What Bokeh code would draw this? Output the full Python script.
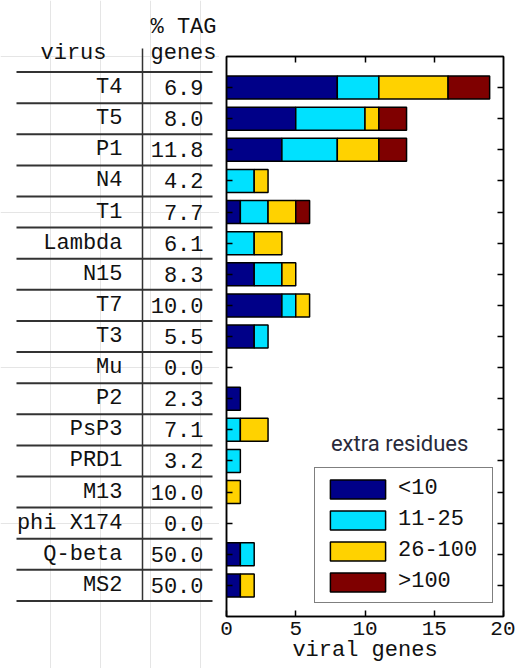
from bokeh.plotting import figure
from bokeh.models import (Range1d, LinearAxis, FixedTicker, Legend, LegendItem,
                          ColumnDataSource, Label)
from bokeh.layouts import row
from bokeh.core.properties import value
from bokeh.embed import file_html
from bokeh.resources import INLINE
import numpy as np

# ---- data -------------------------------------------------------------
viruses = ["T4", "T5", "P1", "N4", "T1", "Lambda", "N15", "T7", "T3", "Mu",
           "P2", "PsP3", "PRD1", "M13", "phi X174", "Q-beta", "MS2"]
tag_pct = [6.9, 8.0, 11.8, 4.2, 7.7, 6.1, 8.3, 10.0, 5.5, 0.0,
           2.3, 7.1, 3.2, 10.0, 0.0, 50.0, 50.0]

series_labels = ["<10", "11-25", "26-100", ">100"]
under_10 = [8, 5, 4, 0, 1, 0, 2, 4, 2, 0, 1, 0, 0, 0, 0, 1, 1]
from_11_to_25 = [3, 5, 4, 2, 2, 2, 2, 1, 1, 0, 0, 1, 1, 0, 0, 1, 0]
from_26_to_100 = [5, 1, 3, 1, 2, 2, 1, 1, 0, 0, 0, 2, 0, 1, 0, 0, 1]
over_100 = [3, 2, 2, 0, 1, 0, 0, 0, 0, 0, 0, 0, 0, 0, 0, 0, 0]

x_ticks = [0, 5, 10, 15, 20]

# ---- styling ----------------------------------------------------------
colors = ["#000088", "#00E1FF", "#FFD200", "#7F0000"]
MONO = "Liberation Mono"
INK = "#111111"

W, H = 515, 668
TABLE_W = 219
TOP, BOTTOM = 56, 52
n = len(viruses)
rows = np.arange(1, n + 1)
row_px = (H - TOP - BOTTOM) / (n + 1)

# ---- bar chart --------------------------------------------------------
p = figure(width=W - TABLE_W, height=H,
           x_range=Range1d(0, 20), y_range=Range1d(n + 1, 0),
           output_backend="svg", toolbar_location=None,
           x_axis_location=None, y_axis_location=None,
           min_border_left=7, min_border_right=12,
           min_border_top=TOP, min_border_bottom=BOTTOM)
p.frame_align = False
p.outline_line_color = "black"
p.outline_line_width = 1.5
p.xgrid.visible = False
p.ygrid.visible = False

left = np.zeros(n)
renderers = []
for vals, color in zip([under_10, from_11_to_25, from_26_to_100, over_100], colors):
    vals = np.asarray(vals, dtype=float)
    right = left + vals
    keep = vals > 0
    src = ColumnDataSource(dict(y=rows[keep], left=left[keep], right=right[keep]))
    r = p.hbar(y="y", left="left", right="right", height=0.74, source=src,
               fill_color=color, line_color="black", line_width=1.5)
    renderers.append(r)
    left = right


def tick_only_axis(ticks):
    return LinearAxis(ticker=FixedTicker(ticks=ticks),
                      major_label_overrides={t: "" for t in ticks},
                      major_label_text_font_size="1px", major_label_standoff=0,
                      axis_label_standoff=0,
                      major_tick_in=6, major_tick_out=0,
                      minor_tick_in=0, minor_tick_out=0,
                      axis_line_width=1.5, major_tick_line_width=1.5)


p.add_layout(tick_only_axis(list(rows)), "left")
p.add_layout(tick_only_axis(list(rows)), "right")
p.add_layout(tick_only_axis([5, 10, 15]), "above")

xaxis = LinearAxis(ticker=FixedTicker(ticks=x_ticks),
                   major_tick_in=6, major_tick_out=0,
                   minor_tick_in=0, minor_tick_out=0,
                   axis_line_width=1.5, major_tick_line_width=1.5,
                   major_label_standoff=5,
                   major_label_text_font=MONO, major_label_text_font_size="21px",
                   major_label_text_color=INK, major_label_text_line_height=0.9,
                   axis_label="viral genes", axis_label_standoff=0,
                   axis_label_text_font=MONO, axis_label_text_font_size="22px",
                   axis_label_text_font_style="normal", axis_label_text_color=INK,
                   axis_label_text_line_height=0.9)
p.add_layout(xaxis, "below")

legend = Legend(items=[LegendItem(label=lab, renderers=[r])
                       for lab, r in zip(series_labels, renderers)],
                location=(88, 13), padding=8, spacing=6, margin=0,
                glyph_width=69, glyph_height=24, label_standoff=6,
                label_width=86, label_height=24,
                label_text_font=MONO, label_text_font_size="22px",
                label_text_line_height=1.0, label_text_color=INK,
                border_line_color="black", border_line_width=1.5,
                background_fill_color="white", background_fill_alpha=1.0)
p.add_layout(legend)

p.add_layout(Label(x=12.5, y=12.45, text="extra residues",
                   text_align="center", text_baseline="middle",
                   text_font="Roboto", text_font_size="22px",
                   text_color="#2a2a3a"))

# ---- table of viruses and % TAG genes ---------------------------------
t = figure(width=TABLE_W, height=H,
           x_range=Range1d(0, TABLE_W),
           y_range=Range1d(n + 1 + BOTTOM / row_px, -TOP / row_px),
           output_backend="svg", toolbar_location=None,
           x_axis_location=None, y_axis_location=None, min_border=0)
t.frame_align = False
t.outline_line_color = None

text_kw = dict(text_baseline="middle", text_font=value(MONO),
               text_font_size="22px", text_color=INK)
t.text(x=122, y=rows, text=viruses, text_align="right", **text_kw)
t.text(x=203, y=rows, text=[f"{v:.1f}" for v in tag_pct], text_align="right", **text_kw)
t.text(x=[73], y=[-0.1], text=["virus"], text_align="center", **text_kw)
t.text(x=[150, 150], y=[-0.93, -0.1], text=["% TAG", "genes"], text_align="left", **text_kw)

bounds = np.append(rows - 0.5, n + 0.5)
t.segment(x0=16, x1=212, y0=bounds, y1=bounds, line_width=2, line_color="#333333")
t.segment(x0=[142], x1=[142], y0=[-0.26], y1=[n + 0.5], line_width=1.5, line_color="#333333")

layout = row(t, p)
open("out.html", "w").write(file_html(layout, INLINE))
